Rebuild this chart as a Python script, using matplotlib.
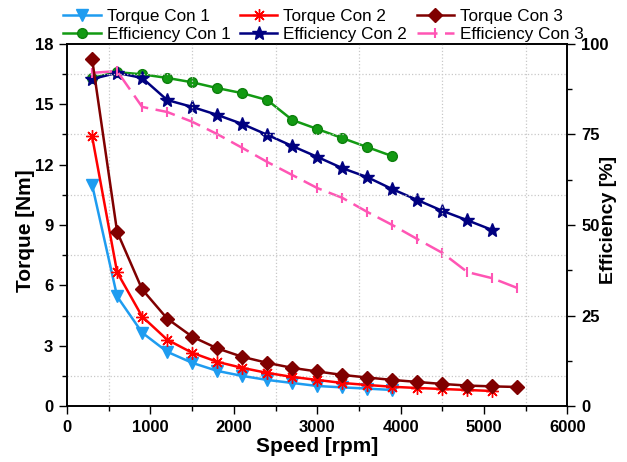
import matplotlib.pyplot as plt
from matplotlib.ticker import MultipleLocator

plt.rcParams['font.family'] = ['Liberation Sans', 'DejaVu Sans']

# speed points [rpm]
speed = [300, 600, 900, 1200, 1500, 1800, 2100, 2400, 2700, 3000, 3300, 3600, 3900, 4200, 4500, 4800, 5100, 5400]

# torque [Nm]
torque_con1 = [11.0, 5.45, 3.65, 2.7, 2.15, 1.75, 1.5, 1.3, 1.15, 1.0, 0.93, 0.87, 0.8]
torque_con2 = [13.4, 6.65, 4.45, 3.3, 2.65, 2.2, 1.9, 1.65, 1.45, 1.3, 1.15, 1.05, 0.96, 0.9, 0.85, 0.8, 0.75]
torque_con3 = [17.25, 8.66, 5.8, 4.35, 3.45, 2.87, 2.45, 2.15, 1.9, 1.72, 1.55, 1.42, 1.3, 1.2, 1.1, 1.02, 0.98, 0.95]

# efficiency [%]
eff_con1 = [90.6, 92.2, 91.6, 90.6, 89.4, 87.8, 86.4, 84.5, 79.0, 76.5, 74.0, 71.5, 69.0]
eff_con2 = [90.3, 92.0, 90.6, 84.5, 82.6, 80.4, 77.9, 74.9, 71.8, 68.8, 65.7, 63.2, 59.9, 56.9, 53.9, 51.3, 48.6]
eff_con3 = [92.0, 92.5, 82.6, 81.2, 78.5, 75.1, 71.3, 67.4, 63.8, 60.2, 57.5, 53.6, 50.0, 46.1, 42.3, 37.0, 35.3, 32.6]

fig, ax = plt.subplots(figsize=(6.27, 4.62), dpi=100)
fig.subplots_adjust(left=0.107, right=0.905, bottom=0.121, top=0.905)
ax2 = ax.twinx()

# efficiency first (right axis)
e1, = ax2.plot(speed[:len(eff_con1)], eff_con1, color='#129a12', lw=1.8, marker='o', ms=7,
               mec='#0d800d', label='Efficiency Con 1')
e2, = ax2.plot(speed[:len(eff_con2)], eff_con2, color='#000080', lw=1.8, marker='*', ms=10,
               label='Efficiency Con 2')
e3, = ax2.plot(speed[:len(eff_con3)], eff_con3, color='#ff55b4', lw=1.8, ls=(0, (8, 3)),
               marker='|', ms=7, mew=1.5, label='Efficiency Con 3')

t1, = ax.plot(speed[:len(torque_con1)], torque_con1, color='#1e9cf0', lw=1.8, marker='v', ms=8,
              label='Torque Con 1')
t2, = ax.plot(speed[:len(torque_con2)], torque_con2, color='#ff0000', lw=1.8, marker=(8, 2, 0), ms=9,
              mew=1.0, label='Torque Con 2')
t3, = ax.plot(speed[:len(torque_con3)], torque_con3, color='#800000', lw=1.8, marker='D', ms=7,
              label='Torque Con 3')

ax.set_zorder(ax2.get_zorder() + 1)
ax.patch.set_visible(False)

ax.set_xlim(0, 6000)
ax.set_ylim(0, 18)
ax2.set_ylim(0, 100)

ax.xaxis.set_major_locator(MultipleLocator(1000))
ax.xaxis.set_minor_locator(MultipleLocator(500))
ax.yaxis.set_major_locator(MultipleLocator(3))
ax.yaxis.set_minor_locator(MultipleLocator(1.5))
ax2.yaxis.set_major_locator(MultipleLocator(25))
ax2.yaxis.set_minor_locator(MultipleLocator(12.5))

ax.grid(which='minor', color='#c8c8c8', ls=':', lw=0.9)

for a in (ax, ax2):
    a.tick_params(which='major', length=6, width=1, labelsize=12, direction='out', pad=4)
    a.tick_params(which='minor', length=3.5, width=1, direction='out')
    for s in a.spines.values():
        s.set_linewidth(1.2)
    for lab in a.get_xticklabels() + a.get_yticklabels():
        lab.set_fontweight('bold')
ax2.tick_params(which='major', pad=4)

ax.set_xlabel('Speed [rpm]', fontsize=15, fontweight='bold', va='center')
ax.set_ylabel('Torque [Nm]', fontsize=15, fontweight='bold', va='center')
ax2.set_ylabel('Efficiency [%]', fontsize=14, fontweight='bold', va='center', rotation=90)
ax.xaxis.set_label_coords(0.5, -0.112)
ax.yaxis.set_label_coords(-0.084, 0.485)
ax2.yaxis.set_label_coords(1.082, 0.515)

handles = [t1, e1, t2, e2, t3, e3]
fig.legend(handles=handles, labels=[h.get_label() for h in handles], ncol=3, loc='upper center',
           bbox_to_anchor=(0.516, 1.0), frameon=False, fontsize=12.3, handlelength=2.2,
           columnspacing=0.55, handletextpad=0.35, labelspacing=0.2, borderaxespad=0.1)

fig.savefig('out.png', dpi=100)
